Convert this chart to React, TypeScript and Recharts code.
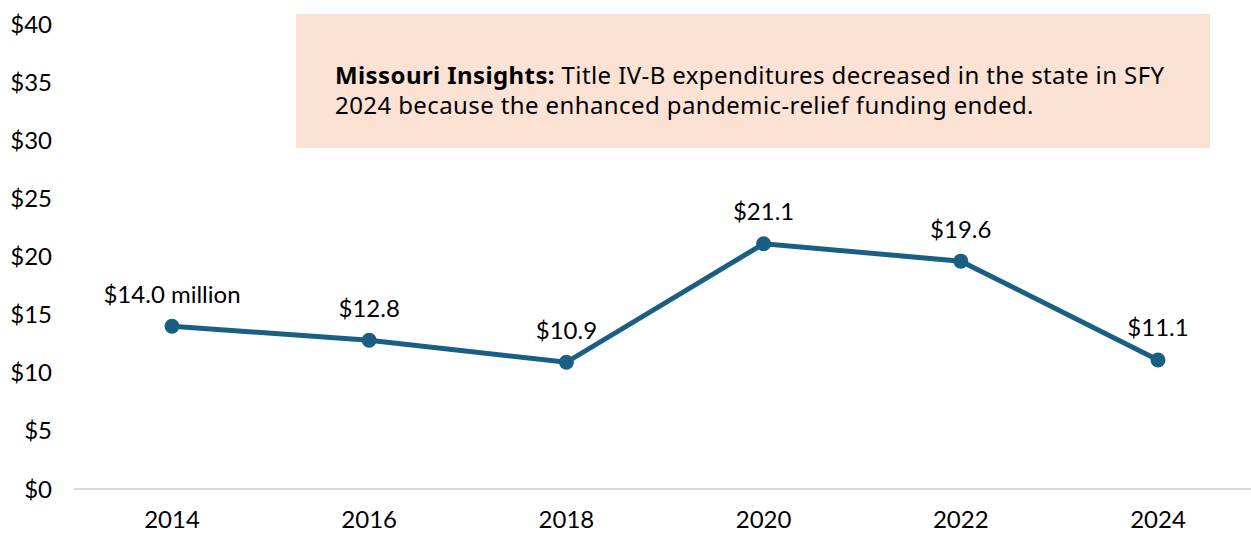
import { LineChart, Line, XAxis, YAxis, LabelList } from 'recharts';

const years = ['2014', '2016', '2018', '2020', '2022', '2024'];
const spending = [14.0, 12.8, 10.9, 21.1, 19.6, 11.1];
const yTicks = [0, 5, 10, 15, 20, 25, 30, 35, 40];

const data = years.map((year, i) => ({ year, value: spending[i] }));

const LINE_COLOR = '#195E83';

function PointLabel(props: any) {
  const { x, y, value, index } = props;
  const text = index === 0 ? `$${Number(value).toFixed(1)} million` : `$${Number(value).toFixed(1)}`;
  return (
    <text
      x={x}
      y={y - 33}
      textAnchor="middle"
      dominantBaseline="central"
      fontFamily="Lato"
      fontSize={24}
      fill="#000"
    >
      {text}
    </text>
  );
}

export default function App() {
  return (
    <div style={{ position: 'absolute', left: 0, top: 0, width: 1251, height: 533, overflow: 'hidden', background: '#fff' }}>
      <div
        style={{
          position: 'absolute',
          left: 296,
          top: 14,
          width: 914,
          height: 134,
          background: '#FBE2D5',
          boxSizing: 'border-box',
          padding: '46px 0 0 39px',
          fontFamily: '"Noto Sans", sans-serif',
          fontSize: 24,
          letterSpacing: 0.4,
          lineHeight: '30px',
          color: '#000',
          whiteSpace: 'nowrap',
        }}
      >
        <b>Missouri Insights:</b> Title IV-B expenditures decreased in the state in SFY
        <br />
        2024 because the enhanced pandemic-relief funding ended.
      </div>
      <div style={{ position: 'absolute', left: 0, top: 0 }}>
        <LineChart width={1256} height={533} data={data} margin={{ top: 24, right: 0, left: 10, bottom: 0 }}>
          <XAxis
            dataKey="year"
            height={44}
            padding={{ left: 98, right: 98 }}
            tickLine={false}
            axisLine={{ stroke: '#D9D9D9', strokeWidth: 2 }}
            tick={{ fontFamily: 'Lato', fontSize: 24, fill: '#000' }}
            tickMargin={16}
          />
          <YAxis
            domain={[0, 40]}
            ticks={yTicks}
            width={64}
            tickLine={false}
            axisLine={false}
            tickMargin={16}
            tick={{ fontFamily: 'Lato', fontSize: 24, fill: '#000' }}
            tickFormatter={(v) => `$${v}`}
          />
          <Line
            type="linear"
            dataKey="value"
            stroke={LINE_COLOR}
            strokeWidth={5}
            dot={{ r: 7.5, fill: LINE_COLOR, stroke: LINE_COLOR, strokeWidth: 0 }}
            isAnimationActive={false}
          >
            <LabelList dataKey="value" content={<PointLabel />} />
          </Line>
        </LineChart>
      </div>
    </div>
  );
}
